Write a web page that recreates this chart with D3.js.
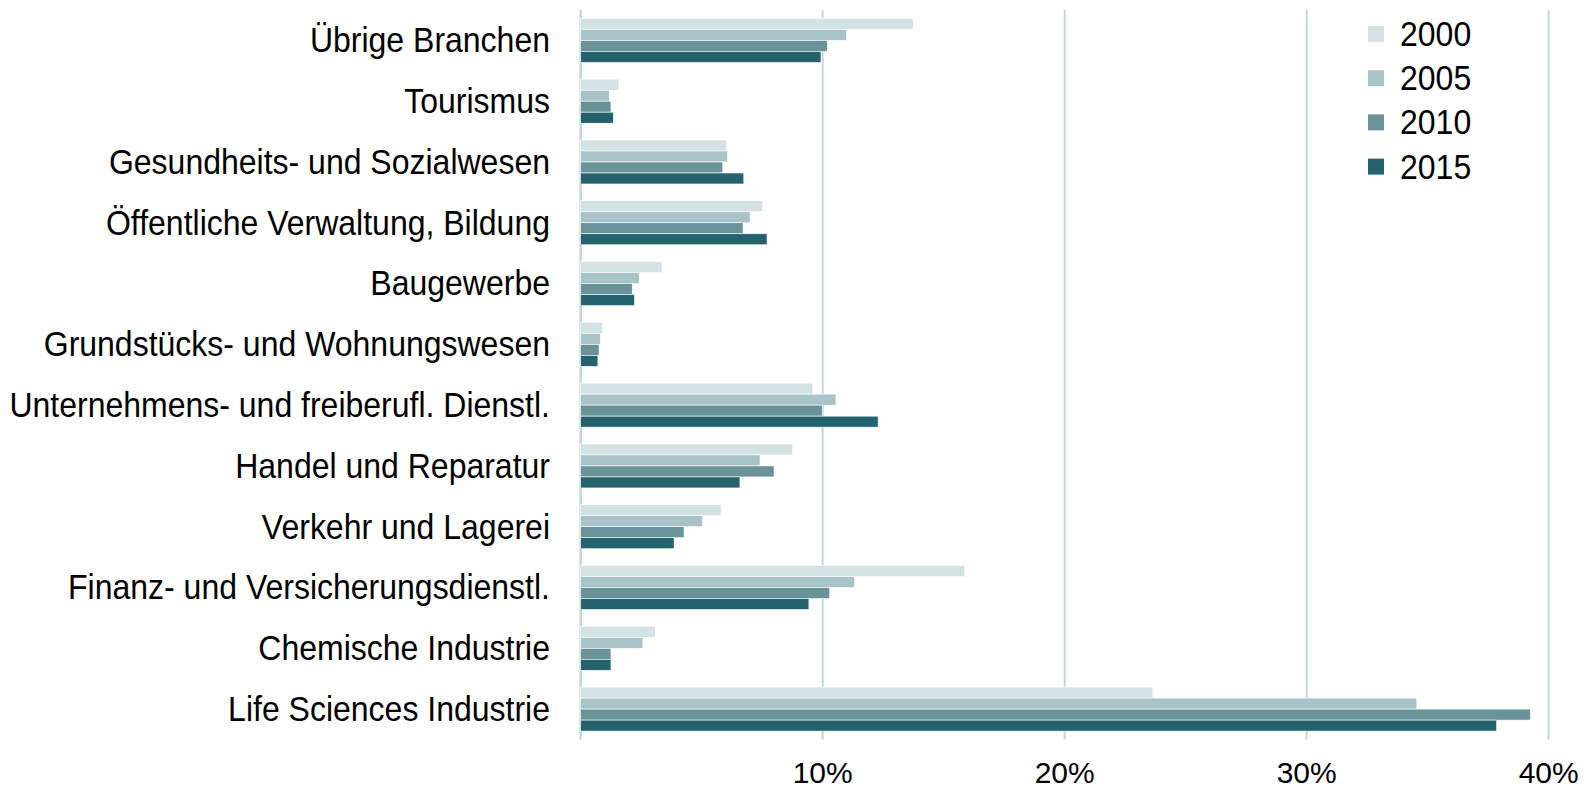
<!DOCTYPE html>
<html>
<head>
<meta charset="utf-8">
<script src="https://cdn.jsdelivr.net/npm/d3@7"></script>
<style>
  body { margin: 0; background: #fff; }
  text { font-family: Arial, "Liberation Sans", sans-serif; fill: #000; }
</style>
</head>
<body>
<div id="chart"></div>
<script>
const categories = [
  'Übrige Branchen',
  'Tourismus',
  'Gesundheits- und Sozialwesen',
  'Öffentliche Verwaltung, Bildung',
  'Baugewerbe',
  'Grundstücks- und Wohnungswesen',
  'Unternehmens- und freiberufl. Dienstl.',
  'Handel und Reparatur',
  'Verkehr und Lagerei',
  'Finanz- und Versicherungsdienstl.',
  'Chemische Industrie',
  'Life Sciences Industrie'
]
const years = ['2000', '2005', '2010', '2015']
const colors = ['#d3e2e5', '#a8c4c9', '#6a9299', '#24626e']

// shares in %, same order as categories
const v2000 = [13.74, 1.58, 6.03, 7.52, 3.36, 0.91, 9.59, 8.76, 5.80, 15.87, 3.08, 23.64]
const v2005 = [10.99, 1.18, 6.07, 7.00, 2.42, 0.81, 10.55, 7.41, 5.04, 11.32, 2.57, 34.55]
const v2010 = [10.19, 1.25, 5.87, 6.71, 2.13, 0.76, 9.98, 7.99, 4.27, 10.29, 1.25, 39.24]
const v2015 = [9.93, 1.35, 6.74, 7.70, 2.22, 0.71, 12.29, 6.58, 3.86, 9.43, 1.25, 37.85]
const xTicks = [0, 10, 20, 30, 40]

const series = [v2000, v2005, v2010, v2015]
const data = categories.map((c, i) => ({
  name: c,
  values: years.map((y, j) => ({ year: y, value: series[j][i] }))
}))

const width = 1595, height = 791
const svg = d3.select('#chart').append('svg')
  .attr('width', width)
  .attr('height', height)

const xScale = d3.scaleLinear()
  .domain([0, 40])
  .range([580.7, 1548.7])
const yScale = d3.scaleBand()
  .domain(categories)
  .range([10, 739.5])
  .paddingInner(0.276)
  .paddingOuter(0.138)
const yInner = d3.scaleBand()
  .domain(years)
  .range([0, yScale.bandwidth()])
const colorScale = d3.scaleOrdinal()
  .domain(years)
  .range(colors)

// gridlines
svg.selectAll('.grid')
  .data(xTicks)
  .enter()
  .append('line')
  .attr('class', 'grid')
  .attr('x1', d => xScale(d))
  .attr('x2', d => xScale(d))
  .attr('y1', 10)
  .attr('y2', 739.5)
  .attr('stroke', '#c3d7de')
  .attr('stroke-width', d => d === 0 ? 2.5 : 2)

// bars
const groups = svg.selectAll('.group')
  .data(data)
  .enter()
  .append('g')
  .attr('class', 'group')
  .attr('transform', d => `translate(0, ${yScale(d.name)})`)

groups.selectAll('rect')
  .data(d => d.values)
  .enter()
  .append('rect')
  .attr('x', xScale(0))
  .attr('y', d => yInner(d.year))
  .attr('width', d => xScale(d.value) - xScale(0))
  .attr('height', yInner.bandwidth())
  .attr('fill', d => colorScale(d.year))
  .attr('stroke', '#ffffff')
  .attr('stroke-width', 0.6)

// category labels
svg.selectAll('.cat')
  .data(categories)
  .enter()
  .append('text')
  .attr('class', 'cat')
  .attr('transform', d => `translate(550, ${yScale(d) + yScale.bandwidth() / 2}) scale(1, 1.08)`)
  .attr('text-anchor', 'end')
  .attr('dominant-baseline', 'central')
  .style('font-size', '32px')
  .text(d => d)

// x tick labels
svg.selectAll('.tick-label')
  .data(xTicks.filter(d => d > 0))
  .enter()
  .append('text')
  .attr('class', 'tick-label')
  .attr('x', d => xScale(d))
  .attr('y', 783)
  .attr('text-anchor', 'middle')
  .style('font-size', '30px')
  .text(d => d + '%')

// legend
const legend = svg.selectAll('.legend')
  .data(years)
  .enter()
  .append('g')
  .attr('class', 'legend')
  .attr('transform', (d, i) => `translate(1368, ${34 + i * 44.2})`)

legend.append('rect')
  .attr('x', 0)
  .attr('y', -8)
  .attr('width', 16)
  .attr('height', 16)
  .attr('fill', d => colorScale(d))

legend.append('text')
  .attr('transform', 'translate(32, 0) scale(1, 1.08)')
  .attr('dominant-baseline', 'central')
  .style('font-size', '32px')
  .text(d => d)
</script>
</body>
</html>
